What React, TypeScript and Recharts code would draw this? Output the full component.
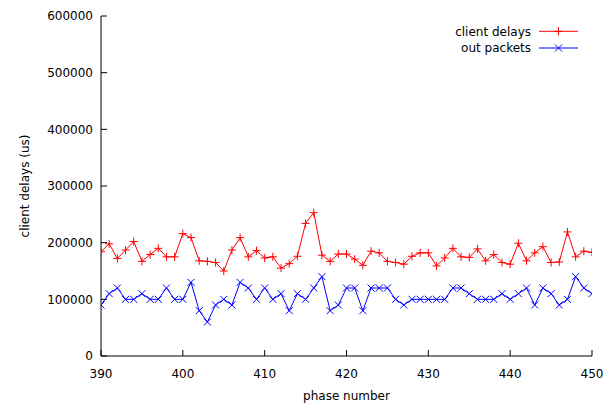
import React from 'react';
import { LineChart, Line, XAxis, YAxis, Legend } from 'recharts';

const phases = [
  390, 391, 392, 393, 394, 395, 396, 397, 398, 399,
  400, 401, 402, 403, 404, 405, 406, 407, 408, 409,
  410, 411, 412, 413, 414, 415, 416, 417, 418, 419,
  420, 421, 422, 423, 424, 425, 426, 427, 428, 429,
  430, 431, 432, 433, 434, 435, 436, 437, 438, 439,
  440, 441, 442, 443, 444, 445, 446, 447, 448, 449,
  450,
];

const clientDelays = [
  184000, 198000, 172000, 187000, 202000, 167000, 179000, 190000, 175000, 175000,
  216000, 209000, 168000, 167000, 165000, 150000, 187000, 209000, 175000, 186000,
  173000, 175000, 155000, 163000, 176000, 234000, 253000, 178000, 167000, 180000,
  180000, 171000, 160000, 185000, 182000, 167000, 165000, 162000, 176000, 182000,
  182000, 159000, 173000, 190000, 175000, 174000, 189000, 168000, 179000, 165000,
  162000, 199000, 168000, 182000, 193000, 165000, 166000, 219000, 175000, 185000,
  183000,
];

const outPackets = [
  90000, 110000, 120000, 100000, 100000, 110000, 100000, 100000, 120000, 100000,
  100000, 130000, 80000, 60000, 90000, 100000, 90000, 130000, 120000, 100000,
  120000, 100000, 110000, 80000, 110000, 100000, 120000, 140000, 80000, 90000,
  120000, 120000, 80000, 120000, 120000, 120000, 100000, 90000, 100000, 100000,
  100000, 100000, 100000, 120000, 120000, 110000, 100000, 100000, 100000, 110000,
  100000, 110000, 120000, 90000, 120000, 110000, 90000, 100000, 140000, 120000,
  110000,
];

const xTicks = [390, 400, 410, 420, 430, 440, 450];
const yTicks = [0, 100000, 200000, 300000, 400000, 500000, 600000];

const seriesNames = ['client delays', 'out packets'];
const seriesColors = ['#ff0000', '#0000ff'];

const data = phases.map((p, i) => ({
  phase: p,
  clientDelays: clientDelays[i],
  outPackets: outPackets[i],
}));

const FONT = '"DejaVu Sans", sans-serif';
const TEXT = '#000000';
const AXIS = '#000000';

const plusPath = (cx: number, cy: number) =>
  `M${cx - 4},${cy}H${cx + 4}M${cx},${cy - 4}V${cy + 4}`;
const crossPath = (cx: number, cy: number) =>
  `M${cx - 3.5},${cy - 3.5}L${cx + 3.5},${cy + 3.5}M${cx - 3.5},${cy + 3.5}L${cx + 3.5},${cy - 3.5}`;

const PlusDot = (props: any) => {
  const { cx, cy, index } = props;
  if (cx == null || cy == null) return <g key={`p${index}`} />;
  return <path key={`p${index}`} d={plusPath(cx, cy)} stroke={seriesColors[0]} strokeWidth={1} fill="none" />;
};

const CrossDot = (props: any) => {
  const { cx, cy, index } = props;
  if (cx == null || cy == null) return <g key={`c${index}`} />;
  return <path key={`c${index}`} d={crossPath(cx, cy)} stroke={seriesColors[1]} strokeWidth={1} fill="none" />;
};

const BottomTick = (props: any) => {
  const { x, y, payload } = props;
  return (
    <g>
      <line x1={x} y1={y} x2={x} y2={y - 6} stroke={AXIS} strokeWidth={1} />
      <text x={x} y={y + 21.5} textAnchor="middle" fontSize={12} fontFamily={FONT} fill={TEXT}>
        {payload.value}
      </text>
    </g>
  );
};

const TopTick = (props: any) => {
  const { x, y } = props;
  return <line x1={x} y1={y} x2={x} y2={y + 6} stroke={AXIS} strokeWidth={1} />;
};

const LeftTick = (props: any) => {
  const { x, y, payload } = props;
  return (
    <g>
      <line x1={x} y1={y} x2={x + 6} y2={y} stroke={AXIS} strokeWidth={1} />
      <text x={x - 8} y={y + 4.4} textAnchor="end" fontSize={12} fontFamily={FONT} fill={TEXT}>
        {payload.value}
      </text>
    </g>
  );
};

const RightTick = (props: any) => {
  const { x, y } = props;
  return <line x1={x} y1={y} x2={x - 6} y2={y} stroke={AXIS} strokeWidth={1} />;
};

const XLabel = (props: any) => {
  const vb = props.viewBox || { x: 101, y: 356, width: 491, height: 50 };
  return (
    <text x={vb.x + vb.width / 2} y={vb.y + 44} textAnchor="middle" fontSize={12} fontFamily={FONT} fill={TEXT}>
      phase number
    </text>
  );
};

const YLabel = (props: any) => {
  const vb = props.viewBox || { x: 0, y: 16, width: 101, height: 340 };
  const cy = vb.y + vb.height / 2;
  return (
    <text
      transform={`translate(28.5,${cy}) rotate(-90)`}
      textAnchor="middle"
      fontSize={12}
      fontFamily={FONT}
      fill={TEXT}
    >
      client delays (us)
    </text>
  );
};

const LegendContent = () => (
  <svg width={616} height={60} style={{ display: 'block' }}>
    {seriesNames.map((name, i) => {
      const y = 31.3 + i * 16.7;
      return (
        <g key={name}>
          <text x={531} y={y + 4.2} textAnchor="end" fontSize={12} fontFamily={FONT} fill={TEXT}>
            {name}
          </text>
          <line x1={539} y1={y} x2={578} y2={y} stroke={seriesColors[i]} strokeWidth={1} />
          <path
            d={i === 0 ? plusPath(558.5, y) : crossPath(558.5, y)}
            stroke={seriesColors[i]}
            strokeWidth={1}
            fill="none"
          />
        </g>
      );
    })}
  </svg>
);

export default function App() {
  return (
    <div style={{ position: 'absolute', left: 0, top: 0, width: 616, height: 406, background: '#fff' }}>
      <LineChart width={616} height={406} data={data} margin={{ top: 16, right: 24, bottom: 0, left: 0 }}>
        <XAxis
          dataKey="phase"
          type="number"
          domain={[390, 450]}
          ticks={xTicks}
          interval={0}
          allowDataOverflow
          height={50}
          tickSize={0}
          tickMargin={0}
          tickLine={false}
          axisLine={{ stroke: AXIS, strokeWidth: 1 }}
          tick={<BottomTick />}
          label={{ content: XLabel }}
        />
        <XAxis
          xAxisId="top"
          orientation="top"
          dataKey="phase"
          type="number"
          domain={[390, 450]}
          ticks={xTicks}
          interval={0}
          allowDataOverflow
          height={0}
          tickSize={0}
          tickMargin={0}
          tickLine={false}
          axisLine={{ stroke: AXIS, strokeWidth: 1 }}
          tick={<TopTick />}
        />
        <YAxis
          type="number"
          domain={[0, 600000]}
          ticks={yTicks}
          interval={0}
          allowDataOverflow
          width={101}
          tickSize={0}
          tickMargin={0}
          tickLine={false}
          axisLine={{ stroke: AXIS, strokeWidth: 1 }}
          tick={<LeftTick />}
          label={{ content: YLabel }}
        />
        <YAxis
          yAxisId="right"
          orientation="right"
          type="number"
          domain={[0, 600000]}
          ticks={yTicks}
          interval={0}
          allowDataOverflow
          width={0}
          tickSize={0}
          tickMargin={0}
          tickLine={false}
          axisLine={{ stroke: AXIS, strokeWidth: 1 }}
          tick={<RightTick />}
        />
        <Legend
          layout="vertical"
          align="center"
          verticalAlign="middle"
          wrapperStyle={{ position: 'absolute', left: 0, top: 0, width: 616, height: 60, margin: 0 }}
          content={<LegendContent />}
        />
        <Line
          type="linear"
          dataKey="clientDelays"
          name={seriesNames[0]}
          stroke={seriesColors[0]}
          strokeWidth={1}
          dot={<PlusDot />}
          activeDot={false}
          isAnimationActive={false}
        />
        <Line
          type="linear"
          dataKey="outPackets"
          name={seriesNames[1]}
          stroke={seriesColors[1]}
          strokeWidth={1}
          dot={<CrossDot />}
          activeDot={false}
          isAnimationActive={false}
        />
      </LineChart>
    </div>
  );
}
